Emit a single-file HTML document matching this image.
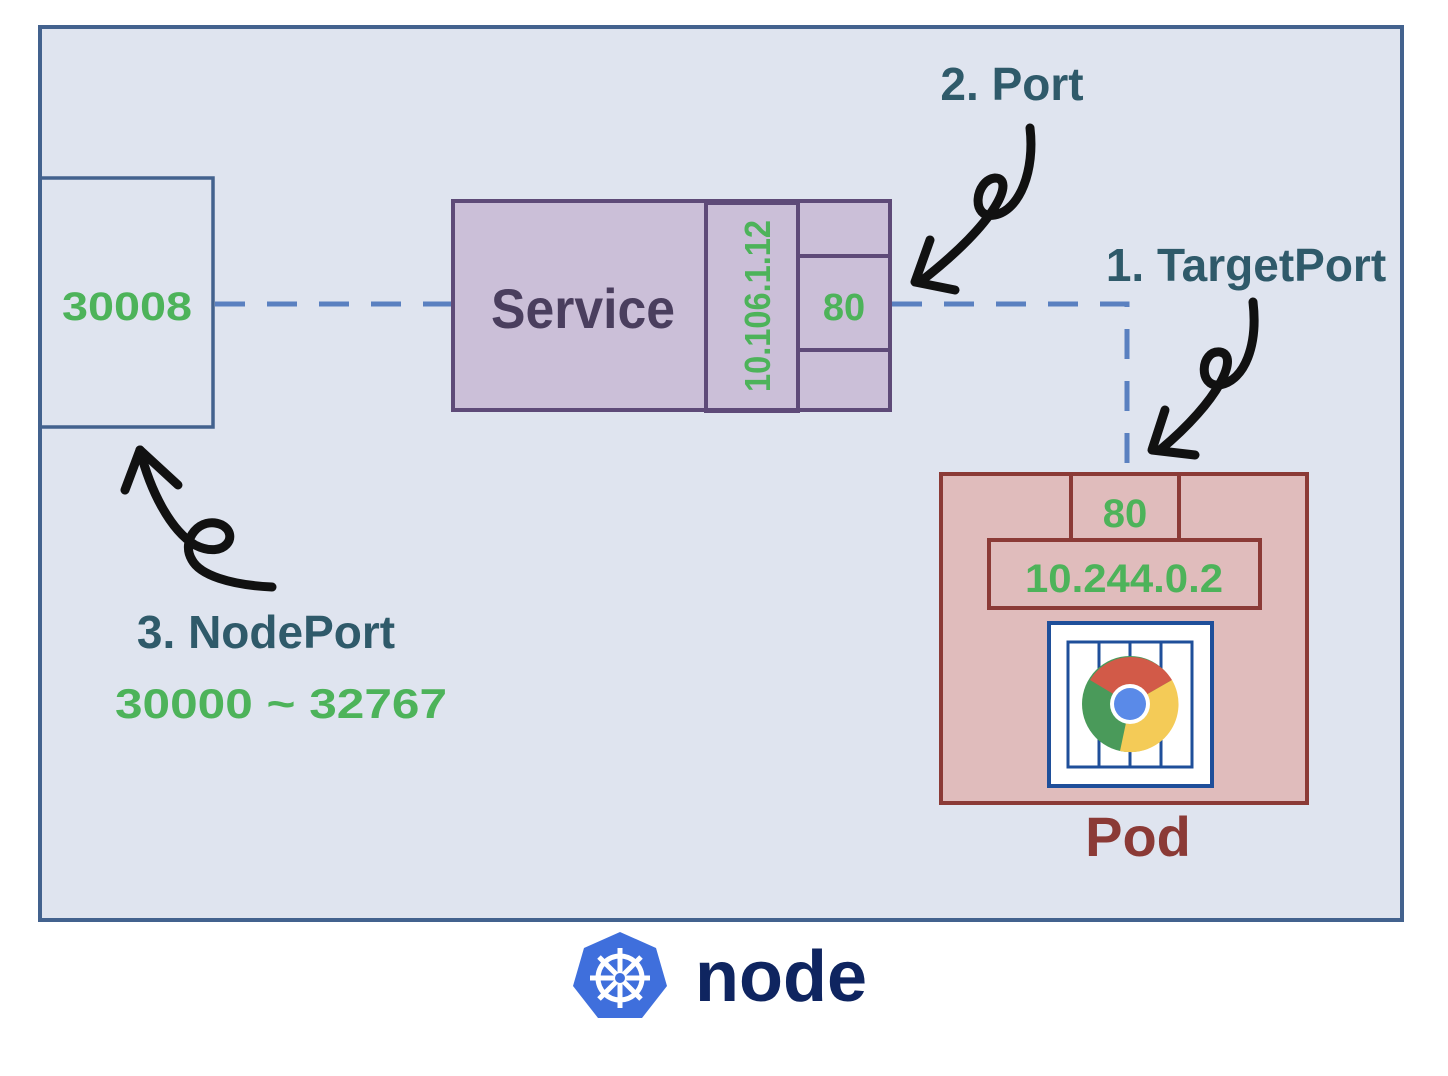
<!DOCTYPE html>
<html><head><style>body{margin:0;background:#fff}svg{display:block}</style></head><body>
<svg width="1448" height="1076" viewBox="0 0 1448 1076" xmlns="http://www.w3.org/2000/svg" font-family="Liberation Sans, sans-serif">
<rect x="40" y="27" width="1362" height="893" fill="#dfe4ef" stroke="#43628e" stroke-width="4"/>
<rect x="40" y="178" width="173" height="249" fill="none" stroke="#43628e" stroke-width="3.5"/>
<text x="62" y="320" textLength="130" lengthAdjust="spacingAndGlyphs" font-size="40" font-weight="bold" fill="#4db35a">30008</text>
<g stroke="#5a80c0" stroke-width="5" stroke-dasharray="30,22" fill="none">
<path d="M215 304 H453"/>
<path d="M892 304 H1127 V474"/>
</g>
<rect x="453" y="201" width="437" height="209" fill="#cbbfd8" stroke="#5e4a78" stroke-width="4"/>
<rect x="706" y="203" width="92" height="208" fill="none" stroke="#5e4a78" stroke-width="4"/>
<path d="M798 256 H890 M798 350 H890" stroke="#5e4a78" stroke-width="4"/>
<text x="491" y="328" textLength="184" lengthAdjust="spacingAndGlyphs" font-size="56" font-weight="bold" fill="#4a3e5e">Service</text>
<text transform="translate(770 306) rotate(-90)" text-anchor="middle" textLength="172" lengthAdjust="spacingAndGlyphs" font-size="36" font-weight="bold" fill="#4db35a">10.106.1.12</text>
<text x="844" y="320" text-anchor="middle" font-size="38" font-weight="bold" fill="#4db35a">80</text>
<rect x="941" y="474" width="366" height="329" fill="#e0bcbc" stroke="#8b3a36" stroke-width="4"/>
<rect x="1071" y="474" width="108" height="68" fill="none" stroke="#8b3a36" stroke-width="4"/>
<rect x="989" y="540" width="271" height="68" fill="#e0bcbc" stroke="#8b3a36" stroke-width="4"/>
<text x="1125" y="527" text-anchor="middle" font-size="40" font-weight="bold" fill="#4db35a">80</text>
<text x="1124" y="592" text-anchor="middle" textLength="198" lengthAdjust="spacingAndGlyphs" font-size="40" font-weight="bold" fill="#4db35a">10.244.0.2</text>
<rect x="1049" y="623" width="163" height="163" fill="#fff" stroke="#1f4f9a" stroke-width="4"/>
<rect x="1068" y="642" width="124" height="125" fill="none" stroke="#1f4f9a" stroke-width="3"/>
<path d="M1099 642 V767 M1130 642 V767 M1161 642 V767" stroke="#1f4f9a" stroke-width="3"/>
<circle cx="1130" cy="704" r="48" fill="#4a9a5a"/>
<path d="M1130 704 L1090 680 A48 48 0 0 1 1172 680 Z" fill="#d25a48"/>
<path d="M1130 704 L1172 680 A48 48 0 0 1 1120 751 Z" fill="#f4cb57"/>
<circle cx="1130" cy="704" r="20" fill="#fff"/>
<circle cx="1130" cy="704" r="16" fill="#5a8ae8"/>
<text x="1138" y="856" text-anchor="middle" font-size="56" font-weight="bold" fill="#8b3a36">Pod</text>
<text x="1012" y="100" text-anchor="middle" font-size="46" fill="#2f5a6a" font-weight="bold">2. Port</text>
<text x="1246" y="281" text-anchor="middle" font-size="46" fill="#2f5a6a" font-weight="bold">1. TargetPort</text>
<text x="266" y="648" text-anchor="middle" font-size="46" fill="#2f5a6a" font-weight="bold">3. NodePort</text>
<text x="115" y="718" textLength="332" lengthAdjust="spacingAndGlyphs" font-size="42" font-weight="bold" fill="#4db35a">30000 ~ 32767</text>
<g fill="none" stroke="#111" stroke-width="9" stroke-linecap="round" stroke-linejoin="round">
<path d="M1030 128 C1035 170 1020 210 995 215 C970 220 975 180 995 178 C1015 178 1000 220 920 282"/>
<path d="M930 240 L915 282 L955 290"/>
<path d="M1253 302 C1258 345 1245 380 1220 385 C1198 388 1200 350 1220 352 C1240 355 1220 400 1160 450"/>
<path d="M1165 410 L1152 450 L1195 455"/>
<path d="M272 587 C230 585 200 575 192 560 C180 540 200 515 222 525 C240 535 225 560 195 545 C170 530 150 490 140 450"/>
<path d="M125 490 L140 450 L178 485"/>
</g>
<polygon points="620,932 656,948 667,986 642,1018 598,1018 573,986 584,948" fill="#3f6fdc"/>
<g stroke="#fff" stroke-width="5" fill="none">
<circle cx="620" cy="978" r="22"/>
<path d="M620 948 V1008 M590 978 H650 M599 957 L641 999 M641 957 L599 999"/>
</g>
<circle cx="620" cy="978" r="5" fill="#3f6fdc"/>
<text x="695" y="1001" font-size="72" font-weight="bold" fill="#0f2560">node</text>
</svg>
</body></html>
